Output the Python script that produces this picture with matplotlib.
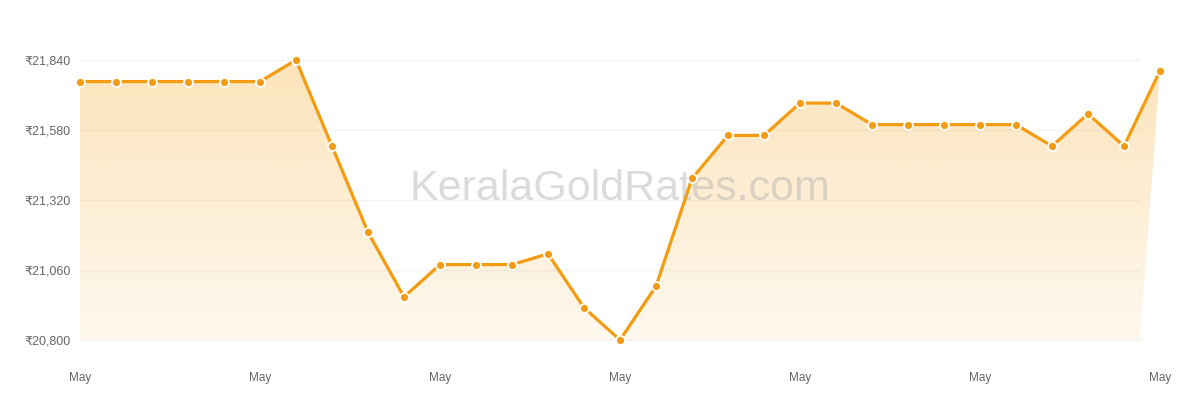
import numpy as np
import matplotlib.pyplot as plt
from matplotlib.patches import Polygon

plt.rcParams['font.family'] = ['Liberation Sans', 'DejaVu Sans']

# gold rate, 31 days
prices = [21760, 21760, 21760, 21760, 21760, 21760, 21840, 21520, 21200, 20960,
          21080, 21080, 21080, 21120, 20920, 20800, 21000, 21400, 21560, 21560,
          21680, 21680, 21600, 21600, 21600, 21600, 21600, 21520, 21640, 21520,
          21800]
xlabels = ["May"] * 7
xlabel_pos = [0, 5, 10, 15, 20, 25, 30]
yticks = [20800, 21060, 21320, 21580, 21840]

orange = '#f39c12'
x = np.arange(len(prices))
y = np.array(prices)

fig = plt.figure(figsize=(12, 4), dpi=100)
ax = fig.add_axes([80 / 1200, 60 / 400, 1080 / 1200, 280 / 400])
ax.set_xlim(0, 30)
ax.set_ylim(20800, 21840)

grid_end = (1140 - 80) / 36
for v in yticks:
    ax.plot([0, grid_end], [v, v], color='#f3f3f3', lw=1, zorder=1, clip_on=False)

# gradient fill under the line (strong at top, faint at bottom)
verts = list(zip(x, y)) + [(grid_end, 20800), (0, 20800)]
poly = Polygon(verts, closed=True, facecolor='none', edgecolor='none')
ax.add_patch(poly)
grad = np.zeros((256, 1, 4))
grad[..., 0] = 245 / 255
grad[..., 1] = 158 / 255
grad[..., 2] = 11 / 255
grad[:, 0, 3] = np.linspace(0.07, 0.28, 256)
im = ax.imshow(grad, extent=[0, 30, 21840, 20800], aspect='auto', zorder=2,
               interpolation='bilinear')
im.set_clip_path(poly)

ax.text(0.5, 0.54, 'KeralaGoldRates.com', transform=ax.transAxes, ha='center',
        va='center', fontsize=31, color='#b0b0b0', alpha=0.45, zorder=2.5)

ax.plot(x, y, color=orange, lw=2.3, zorder=3, clip_on=False)
ax.plot(x, y, 'o', color=orange, ms=6.5, mec='white', mew=1.3, zorder=4, clip_on=False)

ax.set_yticks(yticks)
ax.set_yticklabels(['₹{:,}'.format(v) for v in yticks], fontsize=9, color='#666666')
ax.set_xticks(xlabel_pos)
ax.set_xticklabels(xlabels, fontsize=8.5, color='#666666')
ax.tick_params(length=0)
ax.tick_params(axis='y', pad=7)
ax.tick_params(axis='x', pad=23)
for s in ax.spines.values():
    s.set_visible(False)

fig.savefig('out.png', dpi=100)
